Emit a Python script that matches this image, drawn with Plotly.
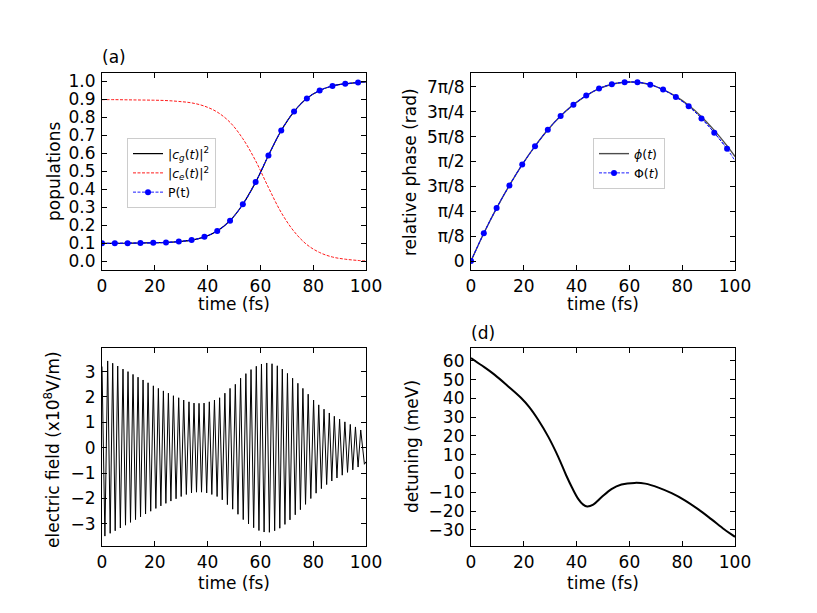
import plotly.graph_objects as go
import math

# ---------------- data ----------------
# (a) populations, sampled at marker times
pop_t = [0, 4.85, 9.7, 14.55, 19.4, 24.25, 29.1, 33.95, 38.8, 43.65, 48.5,
         53.35, 58.2, 63.05, 67.9, 72.75, 77.6, 82.45, 87.3, 92.15, 97.0]
pop_t_line = pop_t + [100]
cg_sq = [0.101, 0.101, 0.102, 0.103, 0.104, 0.106, 0.111, 0.119, 0.137, 0.170, 0.227,
         0.318, 0.441, 0.589, 0.728, 0.833, 0.906, 0.950, 0.975, 0.987, 0.994, 0.997]
ce_sq = [0.899, 0.899, 0.898, 0.897, 0.896, 0.894, 0.889, 0.881, 0.863, 0.830, 0.773,
         0.682, 0.559, 0.411, 0.272, 0.167, 0.094, 0.050, 0.025, 0.013, 0.006, 0.003]
P_t = [0.101, 0.101, 0.102, 0.103, 0.104, 0.106, 0.111, 0.119, 0.137, 0.170, 0.227,
       0.318, 0.441, 0.589, 0.728, 0.833, 0.906, 0.950, 0.975, 0.987, 0.994]
P_t_end = 0.997

# (b) relative phase, in units of pi/8
phase_t = pop_t_line
phi_small = [0, 1.117, 2.127, 3.04, 3.876, 4.616, 5.276, 5.83, 6.285, 6.65, 6.93,
             7.106, 7.187, 7.187, 7.09, 6.89, 6.62, 6.26, 5.80, 5.25, 4.63, 4.20]
Phi_big = [0, 1.117, 2.127, 3.04, 3.876, 4.616, 5.276, 5.83, 6.285, 6.65, 6.93,
           7.106, 7.187, 7.187, 7.09, 6.89, 6.595, 6.218, 5.733, 5.155, 4.509, 4.03]
phase_ticks = ["0", "π/8", "π/4", "3π/8", "π/2", "5π/8", "3π/4", "7π/8"]

# (c) electric field extrema (x10^8 V/m)
field_start = (0.0, 3.2)
field_end = (100.0, -0.55)
field_peak_t = [2.15, 4.05, 5.95, 7.95, 9.85, 11.75, 13.65, 15.55, 17.45, 19.45,
                21.35, 23.25, 25.15, 27.05, 29.05, 30.95, 32.95, 34.85, 36.75, 38.65,
                40.65, 42.6, 44.55, 46.55, 48.5, 50.5, 52.5, 54.5, 56.45, 58.45,
                60.4, 62.4, 64.4, 66.4, 68.3, 70.25, 72.2, 74.2, 76.1, 78.1,
                80.15, 82.1, 84.1, 86.1, 88.0, 90.0, 92.0, 94.05, 96.0, 98.0]
field_peak_v = [3.42, 3.33, 3.22, 3.10, 3.00, 2.89, 2.78, 2.67, 2.56, 2.44,
                2.34, 2.24, 2.15, 2.05, 1.97, 1.88, 1.81, 1.76, 1.75, 1.76,
                1.81, 1.88, 1.97, 2.15, 2.34, 2.50, 2.74, 2.92, 3.08, 3.21,
                3.30, 3.34, 3.31, 3.23, 3.10, 2.93, 2.74, 2.54, 2.34, 2.11,
                1.88, 1.69, 1.52, 1.37, 1.24, 1.13, 1.02, 0.92, 0.82, 0.70]
field_trough_t = [1.1, 3.1, 5.0, 6.95, 8.9, 10.8, 12.7, 14.6, 16.5, 18.45,
                  20.4, 22.3, 24.2, 26.1, 28.05, 30.0, 31.95, 33.9, 35.8, 37.7,
                  39.65, 41.6, 43.6, 45.55, 47.5, 49.5, 51.5, 53.5, 55.5, 57.45,
                  59.45, 61.4, 63.4, 65.4, 67.35, 69.3, 71.2, 73.2, 75.15, 77.1,
                  79.1, 81.1, 83.1, 85.1, 87.05, 89.0, 91.0, 93.0, 95.0, 97.0, 99.4]
field_trough_v = [-3.48, -3.37, -3.27, -3.16, -3.05, -2.94, -2.83, -2.72, -2.61, -2.50,
                  -2.39, -2.29, -2.19, -2.10, -2.01, -1.92, -1.84, -1.78, -1.75, -1.75,
                  -1.78, -1.84, -1.92, -2.05, -2.24, -2.42, -2.62, -2.83, -3.00, -3.15,
                  -3.26, -3.32, -3.33, -3.27, -3.17, -3.02, -2.84, -2.64, -2.44, -2.23,
                  -2.00, -1.79, -1.61, -1.45, -1.31, -1.19, -1.08, -0.97, -0.87, -0.76, -0.65]

# (d) detuning (meV)
det_t = [0, 4, 9, 14, 19, 22, 25.5, 29.3, 33, 36, 38.3, 40.6, 42.5, 44, 46.3, 49.4,
         53.2, 57, 62, 66, 71, 76, 81, 86, 91, 96, 100]
det_v = [61.5, 57.6, 52.5, 46.5, 40.2, 35.5, 28.5, 19.5, 9.0, -0.8, -7.6, -13.5, -16.6,
         -17.6, -16.6, -12.7, -8.3, -5.9, -5.0, -5.4, -7.5, -10.5, -14.3, -19.0, -24.3,
         -29.8, -33.7]

# ---------------- figure ----------------
W, H = 817, 613
FONT = "DejaVu Sans"


def px(X):
    return X / W


def py(Y):
    return 1 - Y / H


fig = go.Figure()

# panel (a)
fig.add_trace(go.Scatter(x=pop_t_line, y=cg_sq, mode="lines", line=dict(color="black", width=1.2, shape="spline"),
                         name="|<i>c</i><sub><i>g</i></sub>(<i>t</i>)|<sup>2</sup>", xaxis="x", yaxis="y", legend="legend"))
fig.add_trace(go.Scatter(x=pop_t_line, y=ce_sq, mode="lines", line=dict(color="red", width=0.9, dash="3px,1.5px", shape="spline"),
                         name="|<i>c</i><sub><i>e</i></sub>(<i>t</i>)|<sup>2</sup>", xaxis="x", yaxis="y", legend="legend"))
fig.add_trace(go.Scatter(x=pop_t_line, y=P_t + [P_t_end], mode="lines", line=dict(color="blue", width=0.9, dash="3px,1.5px", shape="spline"),
                         showlegend=False, xaxis="x", yaxis="y", hoverinfo="skip"))
fig.add_trace(go.Scatter(x=pop_t, y=P_t, mode="lines+markers", line=dict(color="blue", width=0.9, dash="3px,1.5px", shape="spline"),
                         marker=dict(color="blue", size=6), name="P(t)", xaxis="x", yaxis="y", legend="legend"))

# panel (b)
rad = math.pi / 8
fig.add_trace(go.Scatter(x=phase_t, y=[v * rad for v in phi_small], mode="lines",
                         line=dict(color="rgba(0,0,0,0.7)", width=1.4, shape="spline"),
                         name="<i>ϕ</i>(<i>t</i>)", xaxis="x2", yaxis="y2", legend="legend2"))
fig.add_trace(go.Scatter(x=phase_t, y=[v * rad for v in Phi_big], mode="lines",
                         line=dict(color="blue", width=0.9, dash="3px,1.5px", shape="spline"),
                         showlegend=False, xaxis="x2", yaxis="y2", hoverinfo="skip"))
fig.add_trace(go.Scatter(x=phase_t[:-1], y=[v * rad for v in Phi_big[:-1]], mode="lines+markers",
                         line=dict(color="blue", width=0.9, dash="3px,1.5px", shape="spline"),
                         marker=dict(color="blue", size=6),
                         name="Φ(<i>t</i>)", xaxis="x2", yaxis="y2", legend="legend2"))

# panel (c)
pts = [field_start] + list(zip(field_peak_t, field_peak_v)) + list(zip(field_trough_t, field_trough_v)) + [field_end]
pts.sort(key=lambda p: p[0])
fig.add_trace(go.Scatter(x=[p[0] for p in pts], y=[p[1] for p in pts], mode="lines",
                         line=dict(color="black", width=1.0), showlegend=False, xaxis="x3", yaxis="y3"))

# panel (d)
fig.add_trace(go.Scatter(x=det_t, y=det_v, mode="lines", line=dict(color="black", width=2.0, shape="spline"),
                         showlegend=False, xaxis="x4", yaxis="y4"))

# axes layout
xl = [px(102), px(366)]
xr = [px(471), px(735)]
yt = [py(270), py(73)]
yb = [py(546), py(348)]

tickfont = dict(family=FONT, size=17, color="black")
common = dict(showline=True, linecolor="black", linewidth=1.2, mirror="allticks", ticks="inside",
              ticklen=5, tickwidth=1.1, tickcolor="black", showgrid=False, zeroline=False,
              tickfont=tickfont, automargin=False)

xticks = dict(tickvals=[0, 20, 40, 60, 80, 100], ticktext=["0", "20", "40", "60", "80", "100"])

fig.update_layout(
    width=W, height=H, margin=dict(l=0, r=0, t=0, b=0, autoexpand=False),
    paper_bgcolor="white", plot_bgcolor="white",
    font=dict(family=FONT, size=17, color="black"),
    xaxis=dict(domain=xl, anchor="y", range=[0, 100], **xticks, **common),
    yaxis=dict(domain=yt, anchor="x", range=[-0.047, 1.047],
               tickvals=[i / 10 for i in range(11)], ticktext=[f"{i/10:.1f}" for i in range(11)],
               ticklabelstandoff=2, **common),
    xaxis2=dict(domain=xr, anchor="y2", range=[0, 100], **xticks, **common),
    yaxis2=dict(domain=yt, anchor="x2", range=[-0.142, 2.968],
                tickvals=[i * rad for i in range(8)], ticktext=phase_ticks, ticklabelstandoff=2, **common),
    xaxis3=dict(domain=xl, anchor="y3", range=[0, 100], **xticks, **common),
    yaxis3=dict(domain=yb, anchor="x3", range=[-3.87, 3.93],
                tickvals=[-3, -2, -1, 0, 1, 2, 3], ticktext=["−3", "−2", "−1", "0", "1", "2", "3"],
                ticklabelstandoff=2, **common),
    xaxis4=dict(domain=xr, anchor="y4", range=[0, 100], **xticks, **common),
    yaxis4=dict(domain=yb, anchor="x4", range=[-38.6, 66.8],
                tickvals=list(range(-30, 61, 10)),
                ticktext=[("−" + str(-v)) if v < 0 else str(v) for v in range(-30, 61, 10)],
                ticklabelstandoff=2, **common),
    legend=dict(x=px(127), y=py(138), xanchor="left", yanchor="top",
                bgcolor="rgba(255,255,255,0.85)", bordercolor="#cccccc", borderwidth=1,
                font=dict(family=FONT, size=12.5, color="black"), itemwidth=30, tracegroupgap=0),
    legend2=dict(x=px(593), y=py(138), xanchor="left", yanchor="top",
                 bgcolor="rgba(255,255,255,0.85)", bordercolor="#cccccc", borderwidth=1,
                 font=dict(family=FONT, size=12.5, color="black"), itemwidth=30, tracegroupgap=0),
    showlegend=True,
)

ann_font = dict(family=FONT, size=17, color="black")
annots = [
    dict(text="(a)", x=px(100), y=py(57), xanchor="left", yanchor="middle"),
    dict(text="(d)", x=px(469), y=py(333), xanchor="left", yanchor="middle"),
    dict(text="time (fs)", x=px(234), y=py(304), xanchor="center", yanchor="middle"),
    dict(text="time (fs)", x=px(603), y=py(304), xanchor="center", yanchor="middle"),
    dict(text="time (fs)", x=px(234), y=py(583), xanchor="center", yanchor="middle"),
    dict(text="time (fs)", x=px(603), y=py(583), xanchor="center", yanchor="middle"),
    dict(text="populations", x=px(54), y=py(172), xanchor="center", yanchor="middle", textangle=-90),
    dict(text="relative phase (rad)", x=px(410), y=py(172), xanchor="center", yanchor="middle", textangle=-90),
    dict(text="electric field (x10<sup>8</sup>V/m)", x=px(52), y=py(450), xanchor="center", yanchor="middle", textangle=-90),
    dict(text="detuning (meV)", x=px(412), y=py(447), xanchor="center", yanchor="middle", textangle=-90),
]
fig.update_layout(annotations=[dict(xref="paper", yref="paper", showarrow=False, font=ann_font, **a) for a in annots])

fig.write_html("out.html", config={"displayModeBar": False},
               post_script="document.body.style.margin='0';document.body.style.overflow='hidden';")
